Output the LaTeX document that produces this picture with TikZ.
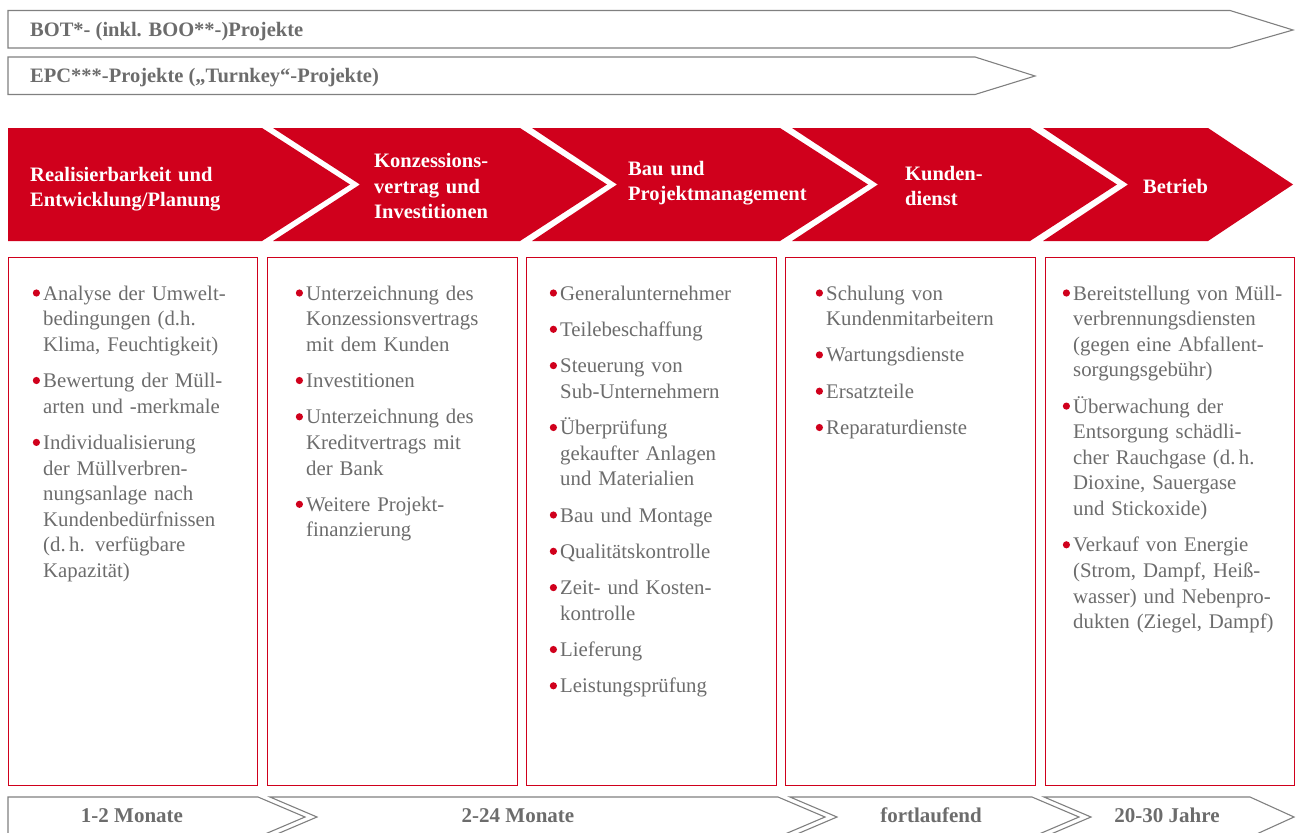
\documentclass[tikz,border=0pt]{standalone}
\usepackage{fontspec}
\setmainfont{Liberation Serif}
\definecolor{brand}{RGB}{208,0,28}
\definecolor{lgray}{RGB}{128,128,128}
\definecolor{tgray}{RGB}{108,108,108}
\newcommand\bul{\leavevmode\llap{\tikz[baseline=-7pt]\fill[brand] (0,0) circle[radius=3.6pt];\hspace{3.2pt}}}
\newcommand\nxt{\par\vspace{10.7pt}}
\begin{document}
\begin{tikzpicture}[x=1pt,y=-1pt,
  outline/.style={draw=lgray,line width=1.1pt,line join=miter},
  chev/.style={fill=brand,draw=none},
  panel/.style={draw=brand,line width=0.9pt},
  head/.style={anchor=base west,inner sep=0pt,text width=240pt,align=left,text=white,font=\bfseries\fontsize{20.5}{25.5}\selectfont},
  body/.style={anchor=base west,inner sep=0pt,text width=236pt,align=left,text=tgray,font=\fontsize{20.8}{25.6}\selectfont},
  toplab/.style={anchor=base west,inner sep=0pt,text=tgray,font=\bfseries\fontsize{20.5}{22}\selectfont},
  botlab/.style={anchor=base,inner sep=0pt,text=tgray,font=\bfseries\fontsize{21}{22}\selectfont}]
\useasboundingbox (0,0) rectangle (1297,832);
% top arrows
\draw[outline] (8,10.5) -- (1230,10.5) -- (1293,30) -- (1230,48) -- (8,48) -- cycle;
\draw[outline] (8,57) -- (975,57) -- (1035,76) -- (975,94.5) -- (8,94.5) -- cycle;
\node[toplab] (bot) at (30,37) {BOT*- (inkl. BOO**-)Projekte};
\node[toplab] (epc) at (30,82.5) {EPC***-Projekte („Turnkey“-Projekte)};
% red chevrons
\fill[chev] (8,128) -- (262,128) -- (350,184.5) -- (262,241) -- (8,241) -- cycle;
\fill[chev] (273,128) -- (520,128) -- (607,184.5) -- (520,241) -- (273,241) -- (360,184.5) -- cycle;
\fill[chev] (532,128) -- (780,128) -- (868,184.5) -- (780,241) -- (532,241) -- (617,184.5) -- cycle;
\fill[chev] (792,128) -- (1030,128) -- (1117,184.5) -- (1030,241) -- (792,241) -- (878,184.5) -- cycle;
\fill[chev] (1043,128) -- (1208,128) -- (1293,184.5) -- (1208,241) -- (1043,241) -- (1128,184.5) -- cycle;
\node[head] (h1) at (30,181) {Realisierbarkeit und\\Entwicklung/Planung};
\node[head] (h2) at (374,167.5) {Konzessions-\\vertrag und\\Investitionen};
\node[head] (h3) at (628,175) {Bau und\\Projektmanagement};
\node[head] (h4) at (905,180) {Kunden-\\dienst};
\node[head] (h5) at (1143,193) {Betrieb};
% panels
\draw[panel] (8,257) rectangle (257,785);
\draw[panel] (267,257) rectangle (517,785);
\draw[panel] (526,257) rectangle (776,785);
\draw[panel] (785,257) rectangle (1035,785);
\draw[panel] (1045,257) rectangle (1294,785);
\node[body] (b1) at (43,300) {\bul Analyse der Umwelt-\\bedingungen (d.h.\\Klima, Feuchtigkeit)\nxt
\bul Bewertung der Müll-\\arten und -merkmale\nxt
\bul Individualisierung\\der Müllverbren-\\nungsanlage nach\\Kundenbedürfnissen\\(d.\,h. verfügbare\\Kapazität)};
\node[body] (b2) at (306,300) {\bul Unterzeichnung des\\Konzessionsvertrags\\mit dem Kunden\nxt
\bul Investitionen\nxt
\bul Unterzeichnung des\\Kreditvertrags mit\\der Bank\nxt
\bul Weitere Projekt-\\finanzierung};
\node[body] (b3) at (560,300) {\bul Generalunternehmer\nxt
\bul Teilebeschaffung\nxt
\bul Steuerung von\\Sub-Unternehmern\nxt
\bul Überprüfung\\gekaufter Anlagen\\und Materialien\nxt
\bul Bau und Montage\nxt
\bul Qualitätskontrolle\nxt
\bul Zeit- und Kosten-\\kontrolle\nxt
\bul Lieferung\nxt
\bul Leistungsprüfung};
\node[body] (b4) at (826,300) {\bul Schulung von\\Kundenmitarbeitern\nxt
\bul Wartungsdienste\nxt
\bul Ersatzteile\nxt
\bul Reparaturdienste};
\node[body,text width=224pt] (b5) at (1073,300) {\bul Bereitstellung von Müll-\\verbrennungsdiensten\\(gegen eine Abfallent-\\sorgungsgebühr)\nxt
\bul Überwachung der\\Entsorgung schädli-\\cher Rauchgase (d.\,h.\\Dioxine, Sauergase\\und Stickoxide)\nxt
\bul Verkauf von Energie\\(Strom, Dampf, Heiß-\\wasser) und Nebenpro-\\dukten (Ziegel, Dampf)};
% bottom time bar
\draw[outline] (8,837) -- (8,797) -- (258,797) -- (305,817) -- (258,837);
\draw[outline] (270,797) -- (778,797) -- (825,817) -- (778,837) -- (270,837) -- (317,817) -- cycle;
\draw[outline] (790,797) -- (1032,797) -- (1079,817) -- (1032,837) -- (790,837) -- (837,817) -- cycle;
\draw[outline] (1044,797) -- (1250,797) -- (1294,817) -- (1250,837) -- (1044,837) -- (1091,817) -- cycle;
\node[botlab] (t1) at (132,822.5) {1-2 Monate};
\node[botlab] (t2) at (518,822.5) {2-24 Monate};
\node[botlab] (t3) at (931,822.5) {fortlaufend};
\node[botlab] (t4) at (1167,822.5) {20-30 Jahre};
\end{tikzpicture}
\end{document}
